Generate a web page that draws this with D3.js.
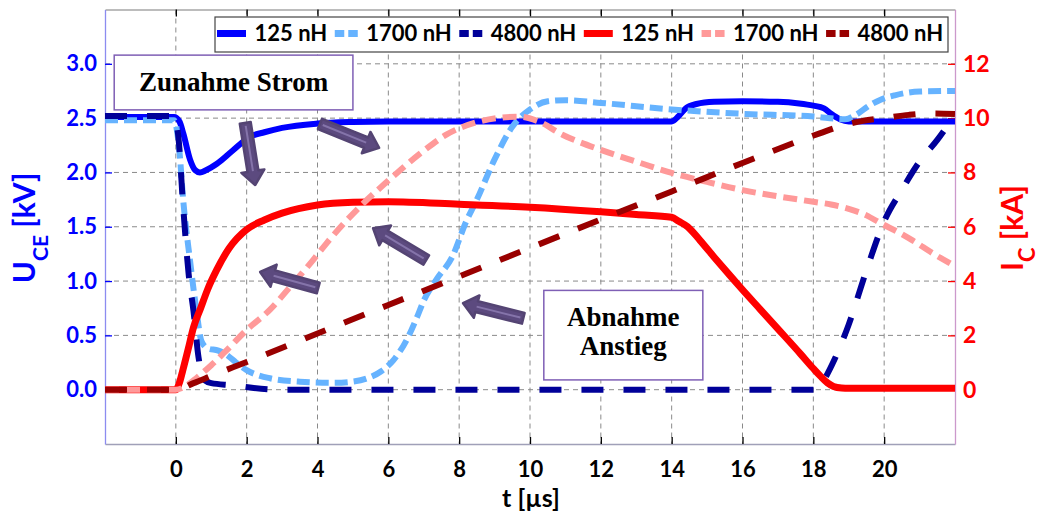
<!DOCTYPE html>
<html><head><meta charset="utf-8">
<script src="https://cdn.jsdelivr.net/npm/d3@7/dist/d3.min.js"></script>
<style>
body{margin:0;background:#fff}
svg{display:block}
text{font-family:Lato,"Open Sans",sans-serif;font-weight:bold}
</style>
</head><body>
<svg id="c" width="1040" height="522"></svg>
<script>
// ---------- DATA ----------
const xTicks = [0,2,4,6,8,10,12,14,16,18,20];
const uTicks = [0,0.5,1.0,1.5,2.0,2.5,3.0];
const iTicks = [0,2,4,6,8,10,12];
const legendLabels = ["125 nH","1700 nH","4800 nH","125 nH","1700 nH","4800 nH"];

// U_CE [kV], 125 nH
const tU125 = [-2,-0.05,0.1,0.21,0.4,0.55,0.68,0.85,1.16,1.6,2.1,2.5,3.0,4.0,5.0,6.0,10.0,14.0,14.2,14.4,14.7,15.2,16,17,17.6,18.0,18.3,18.5,18.75,19.0,22];
const vU125 = [2.51,2.51,2.47,2.36,2.12,2.02,2.0,2.02,2.08,2.2,2.33,2.37,2.41,2.45,2.465,2.47,2.47,2.47,2.52,2.59,2.63,2.65,2.655,2.65,2.635,2.615,2.59,2.54,2.49,2.47,2.47];
// U_CE [kV], 1700 nH
const tU1700 = [-2,-0.05,0.1,0.21,0.4,0.59,0.72,0.9,1.2,1.44,1.7,2.0,2.66,3.5,4.5,5.0,5.4,5.8,6.14,6.52,6.8,7.0,7.37,7.8,8.2,8.5,9.0,9.5,10.0,10.5,11.0,12.0,14.0,16.0,18.0,18.9,19.2,19.6,19.9,20.3,21.0,22];
const vU1700 = [2.48,2.48,2.2,1.74,1.19,0.71,0.45,0.38,0.36,0.32,0.25,0.18,0.105,0.074,0.064,0.075,0.105,0.17,0.27,0.46,0.66,0.82,1.02,1.22,1.55,1.75,2.12,2.42,2.58,2.655,2.665,2.64,2.58,2.54,2.515,2.49,2.53,2.62,2.67,2.71,2.745,2.75];
// U_CE [kV], 4800 nH
const tU4800 = [-2,-0.05,0.08,0.2,0.36,0.5,0.64,0.8,1.0,1.6,2.2,3.0,18.1,18.3,18.6,19.0,19.5,20.0,20.5,21.0,21.5,22];
const vU4800 = [2.52,2.52,2.3,1.72,1.07,0.72,0.3,0.09,0.06,0.04,0.015,0.0,0.0,0.09,0.28,0.6,1.1,1.55,1.84,2.1,2.3,2.53];
// I_C [kA], 125 nH
const tI125 = [-2,0,0.1,0.2,0.35,0.5,0.7,0.9,1.15,1.5,2.0,2.5,3.0,4.0,5.0,6.0,8.0,10.0,12.0,13.0,14.0,14.2,14.45,14.8,15.2,15.65,16.0,16.5,17.0,17.63,18.0,18.2,18.4,18.57,18.8,19.0,22];
const iI125 = [0,0,0.25,0.73,1.5,2.3,3.0,3.7,4.4,5.2,5.9,6.25,6.5,6.8,6.9,6.92,6.83,6.72,6.55,6.45,6.35,6.2,6.0,5.5,4.88,4.2,3.68,2.96,2.24,1.33,0.78,0.5,0.25,0.12,0.06,0.05,0.05];
// I_C [kA], 1700 nH
const tI1700 = [-2,0,0.3,0.6,1.0,1.44,2.0,2.66,3.3,3.88,4.26,5.3,6.0,7.0,7.65,8.5,9.2,9.7,10.2,10.93,12,13,14,15,16,17,18,18.5,19.0,19.5,19.9,20.4,20.8,21.4,22];
const iI1700 = [0,0,0.15,0.45,0.9,1.46,2.2,2.95,3.9,4.78,5.4,6.87,7.7,8.8,9.4,9.85,10.02,10.05,9.9,9.38,8.83,8.4,7.98,7.65,7.35,7.12,6.92,6.82,6.66,6.42,6.13,5.8,5.5,5.0,4.55];
// I_C [kA], 4800 nH
const tI4800 = [-2,0,0.5,1.06,2,4,6,8,10,12,14,16,18.2,18.75,19.4,20,20.7,21.3,22];
const iI4800 = [0,0,0.24,0.54,1.02,2.07,3.12,4.17,5.22,6.27,7.3,8.35,9.45,9.7,9.9,10.0,10.12,10.17,10.15];

// annotation arrows (t [µs], U [kV])
const arrowStart = [[1.96,2.456],[4.07,2.447],[7.07,1.194],[4.02,0.936],[9.81,0.657]];
const arrowTip   = [[2.24,1.884],[5.74,2.226],[5.57,1.486],[2.38,1.084],[8.11,0.796]];
// annotation boxes: [t0, U0, t1, U1]
const noteText = [["Zunahme Strom"],["Abnahme","Anstieg"]];
const noteBox = [[-1.74,3.08,5.0,2.576],[10.39,0.914,14.88,0.09]];

// ---------- CHART ----------
const svg = d3.select("#c");
const L=105, R=955, T=9.5, B=444;
const x = d3.scaleLinear().domain([-2,22]).range([L,R]);
const yV = d3.scaleLinear().domain([-0.5,3.5]).range([B,T]);
const yI = d3.scaleLinear().domain([-2,14]).range([B,T]);

svg.append("defs").append("clipPath").attr("id","clip")
  .append("rect").attr("x",L).attr("y",T).attr("width",R-L).attr("height",B-T);

// grid
const grid = svg.append("g").attr("stroke","#8a8a8a").attr("stroke-width",1).attr("stroke-dasharray","5,4");
grid.selectAll("line.v").data(xTicks).join("line")
  .attr("x1",d=>x(d)).attr("x2",d=>x(d)).attr("y1",T).attr("y2",B);
grid.selectAll("line.h").data(uTicks).join("line").attr("class","h")
  .attr("x1",L).attr("x2",R).attr("y1",d=>yV(d)).attr("y2",d=>yV(d));

// axes
function styleAxis(g, lineCol, tickCol, textCol, size){
  g.select(".domain").attr("stroke",lineCol).attr("stroke-width",1.3);
  g.selectAll(".tick line").attr("stroke",tickCol).attr("stroke-width",1.3);
  g.selectAll(".tick text").attr("fill",textCol).style("font-size",size+"px")
   .style("font-family","Lato,sans-serif").style("font-weight","bold");
}
const gb = svg.append("g").attr("transform",`translate(0,${B})`)
  .call(d3.axisBottom(x).tickValues(xTicks).tickSizeInner(-7).tickSizeOuter(0).tickPadding(17.5));
styleAxis(gb,"#a0a0b8","#000","#000",22);
const gt = svg.append("g").attr("transform",`translate(0,${T})`)
  .call(d3.axisTop(x).tickValues(xTicks).tickSizeInner(-7).tickSizeOuter(0).tickFormat(""));
styleAxis(gt,"#a6a6a6","#000","#000",22);
const gl = svg.append("g").attr("transform",`translate(${L},0)`)
  .call(d3.axisLeft(yV).tickValues(uTicks).tickFormat(d3.format(".1f")).tickSizeInner(-7).tickSizeOuter(0).tickPadding(8));
styleAxis(gl,"#8c8cf0","#0000ff","#0000ff",22);
const gr = svg.append("g").attr("transform",`translate(${R},0)`)
  .call(d3.axisRight(yI).tickValues(iTicks).tickSizeInner(-7).tickSizeOuter(0).tickPadding(8));
styleAxis(gr,"#cc99cc","#ff0000","#ff0000",23);

// series
const series = [
  {t:tU125, v:vU125, y:yV, col:"#0000ff", w:6, dash:null},
  {t:tU1700,v:vU1700,y:yV, col:"#66b3ff", w:6, dash:"13,6"},
  {t:tU4800,v:vU4800,y:yV, col:"#000099", w:6, dash:"22,20"},
  {t:tI125, v:iI125, y:yI, col:"#ff0000", w:7, dash:null},
  {t:tI1700,v:iI1700,y:yI, col:"#ff9999", w:6, dash:"14,7"},
  {t:tI4800,v:iI4800,y:yI, col:"#990000", w:6, dash:"22,20"}
];
const lines = svg.append("g").attr("clip-path","url(#clip)");
series.forEach(s=>{
  const line = d3.line().x(d=>x(d[0])).y(d=>s.y(d[1])).curve(d3.curveMonotoneX);
  lines.append("path").datum(d3.zip(s.t,s.v))
    .attr("d",line).attr("fill","none").attr("stroke",s.col)
    .attr("stroke-width",s.w).attr("stroke-dasharray",s.dash)
    .attr("stroke-linejoin","round");
});

// arrows
const ag = svg.append("g");
arrowStart.forEach((s,i)=>{
  const x0=x(s[0]), y0=yV(s[1]), x1=x(arrowTip[i][0]), y1=yV(arrowTip[i][1]);
  const dx=x1-x0, dy=y1-y0, len=Math.hypot(dx,dy), ux=dx/len, uy=dy/len, nx=-uy, ny=ux;
  const hw=5.5, hh=11.5, hl=14;
  const bx=x1-ux*hl, by=y1-uy*hl;
  const pts=[[x0+nx*hw,y0+ny*hw],[bx+nx*hw,by+ny*hw],[bx+nx*hh,by+ny*hh],[x1,y1],
             [bx-nx*hh,by-ny*hh],[bx-nx*hw,by-ny*hw],[x0-nx*hw,y0-ny*hw]];
  ag.append("polygon").attr("points",pts.map(p=>p.join(",")).join(" "))
    .attr("fill","#5c4a7f").attr("stroke","#544473").attr("stroke-width",2.5).attr("stroke-linejoin","round");
  ag.append("line").attr("x1",x0+ux*3).attr("y1",y0+uy*3).attr("x2",bx).attr("y2",by)
    .attr("stroke","#8574aa").attr("stroke-width",2);
});

// annotation boxes
noteBox.forEach((b,i)=>{
  const bx0=x(b[0]), by0=yV(b[1]), bx1=x(b[2]), by1=yV(b[3]);
  svg.append("rect").attr("x",bx0).attr("y",by0).attr("width",bx1-bx0).attr("height",by1-by0)
    .attr("fill","#fff").attr("stroke","#7f5fb5").attr("stroke-width",1.5);
  noteText[i].forEach((t,j)=>{
    svg.append("text").attr("x",(bx0+bx1)/2).attr("y",by0+36+j*28.5)
      .attr("text-anchor","middle").attr("fill","#000")
      .style("font-family","'Liberation Serif',serif").style("font-size","27px").style("font-weight","bold")
      .text(t);
  });
});

// legend
const lg = svg.append("g");
lg.append("rect").attr("x",215).attr("y",17).attr("width",733).attr("height",35)
  .attr("fill","#fff").attr("stroke","#444").attr("stroke-width",1.2);
let cx = 217;
series.forEach((s,i)=>{
  const sw = s.dash ? 23 : 29;
  lg.append("line").attr("x1",cx).attr("x2",cx+sw).attr("y1",33.5).attr("y2",33.5)
    .attr("stroke",s.col).attr("stroke-width",7).attr("stroke-dasharray",s.dash?"9.5,4":null);
  cx += sw + 8.5;
  const tx = lg.append("text").attr("x",cx).attr("y",40.5).attr("fill","#000")
    .style("font-size","22px").text(legendLabels[i]);
  cx += tx.node().getComputedTextLength() + 7.5;
});

// axis titles
const tl = svg.append("text").attr("transform","translate(35,228) rotate(-90)")
  .attr("text-anchor","middle").attr("fill","#0000ff").style("font-size","30px");
tl.append("tspan").text("U");
tl.append("tspan").attr("dy",13).style("font-size","21px").text("CE");
tl.append("tspan").attr("dy",-13).text(" [kV]");

const tr = svg.append("text").attr("transform","translate(1023,228) rotate(-90)")
  .attr("text-anchor","middle").attr("fill","#ff0000").style("font-size","30px");
tr.append("tspan").text("I");
tr.append("tspan").attr("dy",12).style("font-size","22px").text("C");
tr.append("tspan").attr("dy",-12).text(" [kA]");

svg.append("text").attr("x",531).attr("y",507).attr("text-anchor","middle")
  .attr("fill","#000").style("font-size","25px").text("t [µs]");
</script>
</body></html>
